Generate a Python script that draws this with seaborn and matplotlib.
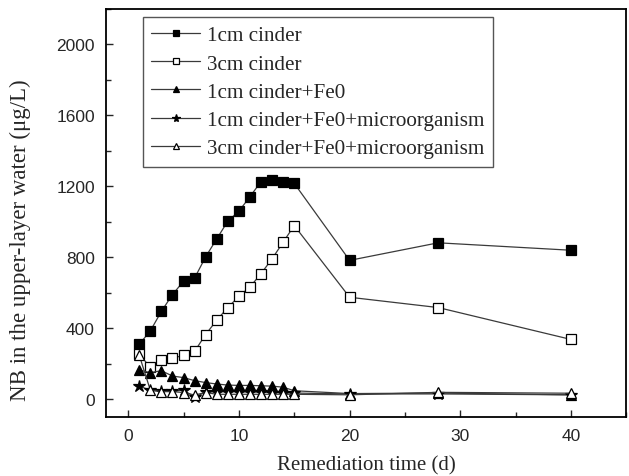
import matplotlib
matplotlib.use("Agg")
import matplotlib.pyplot as plt
import seaborn as sns
import pandas as pd
from matplotlib.ticker import MultipleLocator

days = [1, 2, 3, 4, 5, 6, 7, 8, 9, 10, 11, 12, 13, 14, 15, 20, 28, 40]

s_1cm = [310, 385, 495, 590, 665, 683, 803, 904, 1004, 1060, 1142, 1227, 1236, 1223, 1217, 783, 882, 840]
s_3cm = [255, 180, 220, 232, 247, 270, 365, 446, 517, 580, 633, 708, 792, 886, 979, 575, 517, 337]
s_1cm_fe = [165, 150, 161, 131, 122, 105, 94, 86, 80, 78, 78, 76, 74, 68, 48, 32, 35, 25]
s_1cm_fe_mic = [75, 50, 45, 45, 52, 12, 40, 42, 42, 42, 40, 40, 38, 36, 35, 30, 30, 25]
s_3cm_fe_mic = [249, 52, 43, 43, 38, 24, 38, 28, 28, 28, 28, 28, 28, 28, 28, 25, 39, 34]

labels = ["1cm cinder", "3cm cinder", "1cm cinder+Fe0",
          "1cm cinder+Fe0+microorganism", "3cm cinder+Fe0+microorganism"]
series = [s_1cm, s_3cm, s_1cm_fe, s_1cm_fe_mic, s_3cm_fe_mic]

xlabel = "Remediation time (d)"
ylabel = "NB in the upper-layer water (\u03bcg/L)"

sns.set_style("ticks")
plt.rcParams["font.family"] = ["Liberation Sans", "DejaVu Sans"]

fig = plt.figure(figsize=(6.29, 4.77), dpi=100)
ax = fig.add_axes([0.1685, 0.1237, 0.8275, 0.8553])

styles = [
    dict(marker="s", markerfacecolor="black", markersize=6.5),
    dict(marker="s", markerfacecolor="white", markersize=6.5),
    dict(marker="^", markerfacecolor="black", markersize=7.5),
    dict(marker="*", markerfacecolor="black", markersize=9),
    dict(marker="^", markerfacecolor="white", markersize=7.5),
]

for lab, vals, st in zip(labels, series, styles):
    df = pd.DataFrame({"day": days, "value": vals})
    sns.lineplot(data=df, x="day", y="value", ax=ax, label=lab,
                 color="#3a3a3a", linewidth=0.9,
                 markeredgecolor="black", markeredgewidth=0.9, **st)

ax.set_xlim(-2, 45)
ax.set_ylim(-100, 2200)
ax.xaxis.set_major_locator(MultipleLocator(10))
ax.xaxis.set_minor_locator(MultipleLocator(5))
ax.yaxis.set_major_locator(MultipleLocator(400))
ax.yaxis.set_minor_locator(MultipleLocator(200))
ax.tick_params(which="both", direction="in", width=1.0, labelsize=12.5,
               top=False, right=False, pad=8)
ax.tick_params(which="major", length=5)
ax.tick_params(which="minor", length=3.5)
for sp in ax.spines.values():
    sp.set_linewidth(1.3)
    sp.set_color("black")

serif = ["Liberation Serif", "DejaVu Serif"]
ax.set_xlabel(xlabel, fontsize=15, family=serif, labelpad=9)
ax.set_ylabel(ylabel, fontsize=16.5, family=serif, labelpad=9)
ax.yaxis.set_label_coords(-0.145, 0.435)

leg = ax.legend(loc="upper left", bbox_to_anchor=(0.071, 0.98),
                prop={"family": serif, "size": 15.2}, frameon=True,
                fancybox=False, edgecolor="#555555", framealpha=1,
                handlelength=2.3, markerscale=0.65, borderpad=0.4,
                labelspacing=0.4, handletextpad=0.35, borderaxespad=0)
leg.get_frame().set_linewidth(1.0)

fig.savefig("out.png", dpi=100)
